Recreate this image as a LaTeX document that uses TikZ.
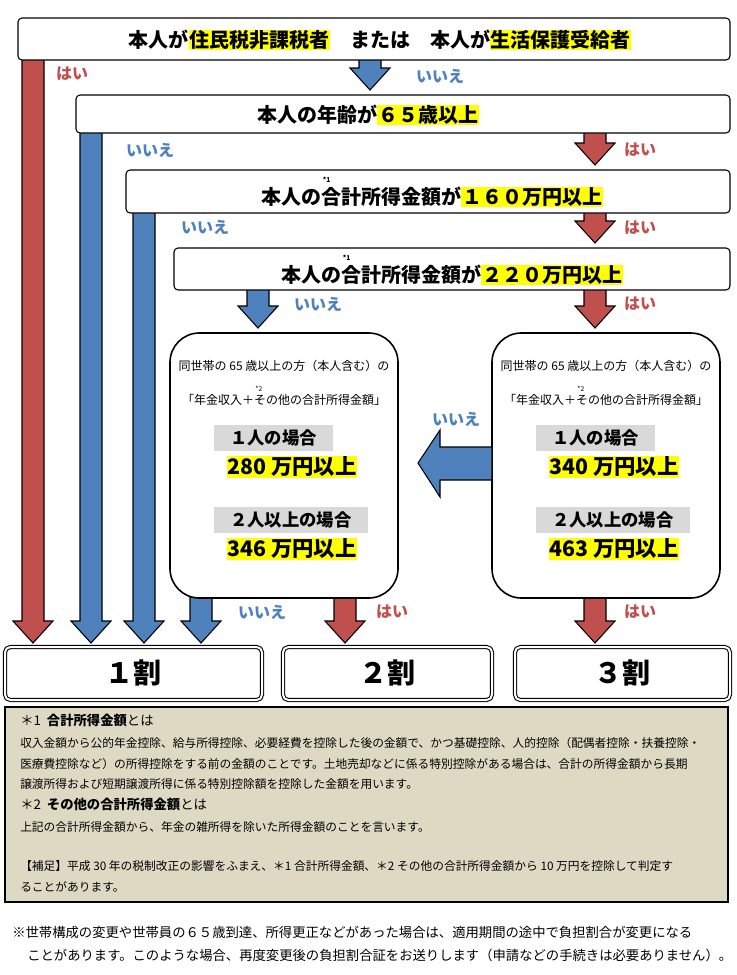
\documentclass[tikz,border=0pt]{standalone}
\usepackage{fontspec}
\setmainfont{Noto Sans CJK JP}
\usetikzlibrary{positioning}
\definecolor{myred}{HTML}{C0504D}
\definecolor{myblue}{HTML}{4F81BD}
\definecolor{notebg}{HTML}{DDD9C3}
\definecolor{labgray}{HTML}{D9D9D9}
\definecolor{hlyellow}{HTML}{FFFF00}
\newcommand\hlt[1]{{\setlength\fboxsep{0.5pt}\colorbox{hlyellow}{#1}}}
\newcommand\stars[1]{\rlap{\raisebox{1.1em}{\tiny\ *#1}}}
% block arrow: x centre, top, tip, colour
\newcommand\blkarrow[4]{\draw[arrowpath,fill=#4] (#1-11,#2) -- (#1+11,#2) -- (#1+11,#3-22) -- (#1+20,#3-22) -- (#1,#3) -- (#1-20,#3-22) -- (#1-11,#3-22) -- cycle;}
\begin{document}
\begin{tikzpicture}[x=0.75pt,y=-0.75pt,
    qbox/.style={draw,thick,rounded corners=3pt,fill=white,font=\bfseries\fontsize{15}{18}\selectfont},
    cbox/.style={draw,very thick,rounded corners=22pt,fill=white},
    rbox/.style={draw,thick,double,double distance=1.5pt,rounded corners=4pt,fill=white,font=\bfseries\fontsize{21}{24}\selectfont},
    arrowpath/.style={draw=black,thick,line join=miter},
    yes/.style={text=myred,font=\bfseries\fontsize{12}{14}\selectfont},
    no/.style={text=myblue,font=\bfseries\fontsize{12}{14}\selectfont},
    glab/.style={fill=labgray,anchor=west,minimum height=20pt,inner xsep=12pt,font=\bfseries\fontsize{13}{15}\selectfont},
    amount/.style={anchor=west,font=\bfseries\fontsize{16}{18}\selectfont},
    small/.style={font=\fontsize{9}{10}\selectfont},
    note/.style={anchor=west,inner sep=0pt,font=\fontsize{8.8}{10}\selectfont}]
\useasboundingbox (0,0) rectangle (736,975);
\fill[white] (0,0) rectangle (736,975);

% arrows behind boxes
\blkarrow{33}{55}{643}{myred}
\blkarrow{91}{128}{643}{myblue}
\blkarrow{144}{208}{643}{myblue}
\blkarrow{370}{55}{90}{myblue}
\blkarrow{595}{128}{165}{myred}
\blkarrow{595}{208}{243}{myred}
\blkarrow{258}{285}{328}{myblue}
\blkarrow{595}{285}{328}{myred}
\blkarrow{201}{593}{643}{myblue}
\blkarrow{345}{593}{643}{myred}
\blkarrow{595}{593}{643}{myred}

% question boxes
\draw[qbox] (18,18) rectangle (730,60);
\node (q1) at (380,40) [font=\bfseries\fontsize{15}{18}\selectfont] {本人が\hlt{住民税非課税者}　または　本人が\hlt{生活保護受給者}};
\draw[qbox] (76,95) rectangle (730,133);
\node (q2) at (368,115) [font=\bfseries\fontsize{15}{18}\selectfont] {本人の年齢が\hlt{６５歳以上}};
\draw[qbox] (126,170) rectangle (730,213);
\node (q3) at (432,192) [font=\bfseries\fontsize{15}{18}\selectfont] {本人の\stars{1}合計所得金額が\hlt{１６０万円以上}};
\draw[qbox] (174,248) rectangle (730,290);
\node (q4) at (452,270) [font=\bfseries\fontsize{15}{18}\selectfont] {本人の\stars{1}合計所得金額が\hlt{２２０万円以上}};

% labels
\node[yes] at (72,74) {はい};
\node[no] at (440,76) {いいえ};
\node[no] at (150,150) {いいえ};
\node[yes] at (640,150) {はい};
\node[no] at (205,227) {いいえ};
\node[yes] at (640,228) {はい};
\node[no] at (318,304) {いいえ};
\node[yes] at (640,304) {はい};
\node[no] at (262,612) {いいえ};
\node[yes] at (392,612) {はい};
\node[yes] at (640,612) {はい};
\node[no] at (456,419) {いいえ};

% condition boxes
\draw[cbox] (170,333) rectangle (398,598);
\draw[cbox] (492,333) rectangle (720,598);
\draw[arrowpath,fill=myblue] (492,447) -- (440,447) -- (440,430) -- (418,463) -- (440,497) -- (440,480) -- (492,480) -- cycle;

\node[small] (l1) at (284,366) {同世帯の 65 歳以上の方（本人含む）の};
\node[small] (l2) at (284,396) {「年金収入＋\stars{2}その他の合計所得金額」};
\node[glab] (lg1) at (214,438) {１人の場合};
\node[amount] (la1) at (222,467) {\hlt{280 万円以上}};
\node[glab] (lg2) at (214,520) {２人以上の場合};
\node[amount] (la2) at (222,549) {\hlt{346 万円以上}};

\node[small] (r1) at (606,366) {同世帯の 65 歳以上の方（本人含む）の};
\node[small] (r2) at (606,396) {「年金収入＋\stars{2}その他の合計所得金額」};
\node[glab] (rg1) at (536,438) {１人の場合};
\node[amount] (ra1) at (544,467) {\hlt{340 万円以上}};
\node[glab] (rg2) at (536,520) {２人以上の場合};
\node[amount] (ra2) at (544,549) {\hlt{463 万円以上}};

% results
\draw[rbox] (5,647) rectangle (262,700);
\node (res1) at (133,673) [font=\bfseries\fontsize{21}{24}\selectfont] {１割};
\draw[rbox] (283,647) rectangle (492,700);
\node (res2) at (387,673) [font=\bfseries\fontsize{21}{24}\selectfont] {２割};
\draw[rbox] (515,647) rectangle (730,700);
\node (res3) at (622,673) [font=\bfseries\fontsize{21}{24}\selectfont] {３割};

% notes
\draw[thick,fill=notebg] (5,707) rectangle (728,902);
\node[note,font=\fontsize{10}{12}\selectfont] (n1) at (20,720) {＊1\ \ \textbf{合計所得金額}とは};
\node[note] (n2) at (20,743) {収入金額から公的年金控除、給与所得控除、必要経費を控除した後の金額で、かつ基礎控除、人的控除（配偶者控除・扶養控除・};
\node[note] (n3) at (20,764) {医療費控除など）の所得控除をする前の金額のことです。土地売却などに係る特別控除がある場合は、合計の所得金額から長期};
\node[note] (n4) at (20,784) {譲渡所得および短期譲渡所得に係る特別控除額を控除した金額を用います。};
\node[note,font=\fontsize{10}{12}\selectfont] (n5) at (20,804) {＊2\ \ \textbf{その他の合計所得金額}とは};
\node[note] (n6) at (20,827) {上記の合計所得金額から、年金の雑所得を除いた所得金額のことを言います。};
\node[note] (n7) at (20,866) {【補足】平成 30 年の税制改正の影響をふまえ、＊1\ 合計所得金額、＊2\ その他の合計所得金額から 10 万円を控除して判定す};
\node[note] (n8) at (20,887) {ることがあります。};

\node[note,font=\fontsize{10}{12}\selectfont] (f1) at (12,932) {※世帯構成の変更や世帯員の６５歳到達、所得更正などがあった場合は、適用期間の途中で負担割合が変更になる};
\node[note,font=\fontsize{10}{12}\selectfont] (f2) at (27,955) {ことがあります。このような場合、再度変更後の負担割合証をお送りします（申請などの手続きは必要ありません）。};
\end{tikzpicture}
\end{document}
